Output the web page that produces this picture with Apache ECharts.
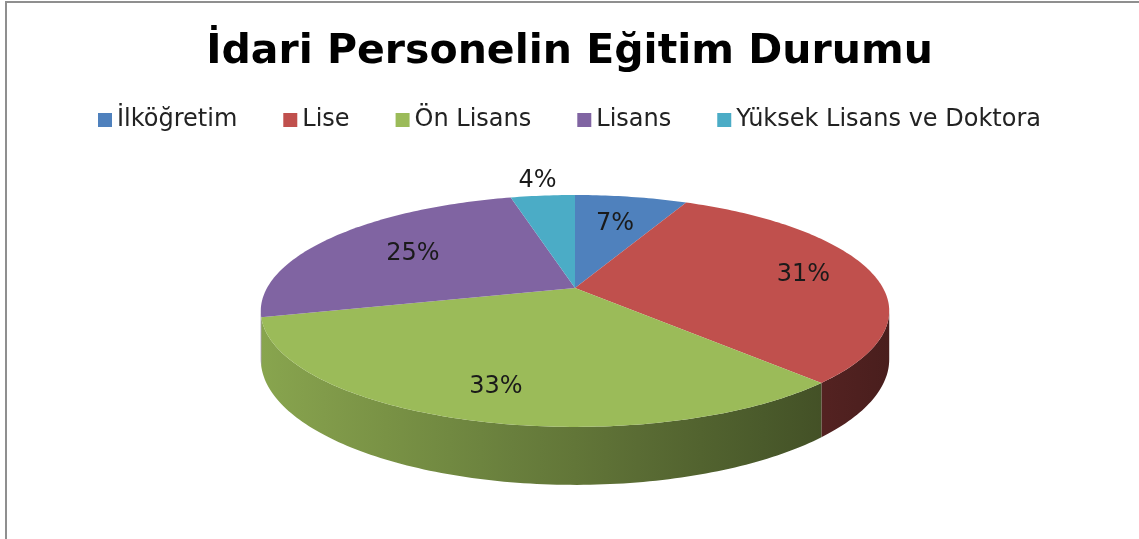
<!DOCTYPE html>
<html>
<head>
<meta charset="utf-8">
<script src="https://cdn.jsdelivr.net/npm/echarts@6/dist/echarts.min.js"></script>
<style>
  html, body { margin: 0; padding: 0; background: #fff; }
  #main { width: 1139px; height: 539px; }
</style>
</head>
<body>
<div id="main"></div>
<script>
var categories = ['İlköğretim', 'Lise', 'Ön Lisans', 'Lisans', 'Yüksek Lisans ve Doktora'];
var values = [7, 31, 33, 25, 4];
var colors = ['#4F81BD', '#C0504D', '#9BBB59', '#8064A2', '#4BACC6'];

// tilted disc, drawn with a little perspective like the excel 3d pie
var CX = 575, CY = 288, RX = 308, RY = 111.4, K = 0.198, DEPTH = 46.5;
var FONT = '"DejaVu Sans", sans-serif';

var total = values.reduce(function (a, b) { return a + b; }, 0);
var starts = [];
var acc = 0;
values.forEach(function (v) { starts.push(acc / total); acc += v; });

// where the rim turns away from us (cos = -K)
var EDGE = Math.acos(-K) / (Math.PI * 2);

// t: fraction of the turn clockwise from 12 o'clock, r: radius 0..1, h: 0 top / 1 bottom
function pt(t, r, h) {
  var a = t * Math.PI * 2;
  var u = Math.sin(a) * r, v = Math.cos(a) * r;
  var w = 1 + K * v;
  return [CX + RX * u / w, CY - RY * v / w + DEPTH * h / w];
}

function shade(hex, f) {
  var n = parseInt(hex.slice(1), 16);
  var r = Math.round(((n >> 16) & 255) * f);
  var g = Math.round(((n >> 8) & 255) * f);
  var b = Math.round((n & 255) * f);
  return 'rgb(' + r + ',' + g + ',' + b + ')';
}

// side wall gets darker to the right
function sideFill(color) {
  var stops = [];
  for (var i = 0; i <= 10; i++) {
    var u = -1 + i / 5;
    stops.push({ offset: i / 10, color: shade(color, 0.63 - 0.25 * u) });
  }
  return { type: 'linear', x: CX - RX * 1.02, y: 0, x2: CX + RX * 1.02, y2: 0, global: true, colorStops: stops };
}

function makeRender(i) {
  return function (params, api) {
    var val = api.value(0);
    var t0 = starts[i], t1 = starts[i] + val / total;
    var n = Math.max(2, Math.ceil((t1 - t0) * 360));
    var top = [pt(0, 0, 0)];
    for (var k = 0; k <= n; k++) top.push(pt(t0 + (t1 - t0) * k / n, 1, 0));
    var children = [{ type: 'polygon', shape: { points: top }, style: { fill: colors[i] }, z2: 5 }];

    // outer wall, only the front part shows
    var w0 = Math.max(t0, EDGE), w1 = Math.min(t1, 1 - EDGE);
    if (w1 > w0) {
      var m = Math.max(2, Math.ceil((w1 - w0) * 360));
      var upper = [], lower = [];
      for (k = 0; k <= m; k++) {
        var t = w0 + (w1 - w0) * k / m;
        upper.push(pt(t, 1, 0));
        lower.unshift(pt(t, 1, 1));
      }
      children.push({ type: 'polygon', shape: { points: upper.concat(lower) }, style: { fill: sideFill(colors[i]) }, z2: 1 });
    }

    // label: inside the slice, small ones go just outside the rim
    var mid = (t0 + t1) / 2;
    var a = mid * Math.PI * 2;
    var r = val / total < 0.05 ? 1.2 : 0.73 - 0.07 * Math.cos(a) + 0.05 * Math.sin(a);
    var lp = pt(mid, r, 0);
    children.push({
      type: 'text', x: lp[0], y: lp[1], z2: 10,
      style: {
        text: Math.round(val / total * 100) + '%',
        fill: '#1a1a1a', fontSize: 24, fontFamily: FONT,
        align: 'center', verticalAlign: 'middle'
      }
    });
    return { type: 'group', children: children };
  };
}

var chart = echarts.init(document.getElementById('main'));
chart.setOption({
  animation: false,
  color: colors,
  title: {
    text: 'İdari Personelin Eğitim Durumu',
    left: 'center', top: 27,
    textStyle: { fontFamily: FONT, fontSize: 41, fontWeight: 'bold', color: '#000' }
  },
  legend: {
    top: 103, left: 'center',
    icon: 'rect', itemWidth: 14, itemHeight: 14, itemGap: 46,
    textStyle: { fontFamily: FONT, fontSize: 24, color: '#222' },
    data: categories
  },
  graphic: [{
    type: 'rect', shape: { x: 6, y: 2, width: 1200, height: 600 },
    style: { fill: 'none', stroke: '#8f8f8f', lineWidth: 2 }
  }],
  series: categories.map(function (name, i) {
    return {
      type: 'custom', name: name,
      coordinateSystem: 'none',
      renderItem: makeRender(i),
      data: [values[i]]
    };
  })
});
</script>
</body>
</html>
